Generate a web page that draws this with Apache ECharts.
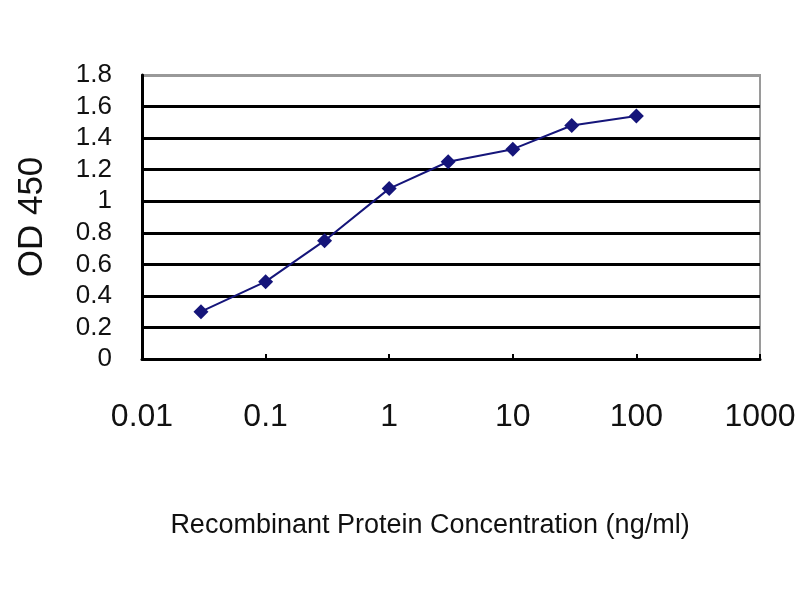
<!DOCTYPE html>
<html>
<head>
<meta charset="utf-8">
<script src="https://cdn.jsdelivr.net/npm/echarts@6/dist/echarts.min.js"></script>
<style>html,body{margin:0;padding:0;background:#fff}#c{width:800px;height:600px}</style>
</head>
<body>
<div id="c"></div>
<script>
const concentrations = [0.03, 0.1, 0.3, 1, 3, 10, 30, 100];
const od450 = [0.30, 0.49, 0.75, 1.08, 1.25, 1.33, 1.48, 1.54];
const xTitle = 'Recombinant Protein Concentration (ng/ml)';
const yTitle = 'OD 450';
const FONT = '"Liberation Sans", Arial, sans-serif';

const chart = echarts.init(document.getElementById('c'));
const gridColors = ['#000','#000','#000','#000','#000','#000','#000','#000','#000','#999'];
chart.setOption({
  animation: false,
  backgroundColor: '#fff',
  grid: { left: 142, right: 40, top: 75, bottom: 241, show: true, borderColor: '#9a9a9a', borderWidth: 2, backgroundColor: '#fff' },
  xAxis: {
    type: 'log', logBase: 10, min: 0.01, max: 1000,
    axisLine: { lineStyle: { color: '#000', width: 3 } },
    axisTick: { show: true, inside: true, length: 5, lineStyle: { color: '#000', width: 2 } },
    minorTick: { show: false },
    splitLine: { show: false },
    axisLabel: {
      margin: 42, fontSize: 32, color: '#111', fontFamily: FONT,
      showMinLabel: true, showMaxLabel: true,
      formatter: v => String(+(+v).toPrecision(6))
    }
  },
  yAxis: {
    type: 'value', min: 0, max: 1.8, interval: 0.2,
    name: yTitle, nameLocation: 'middle', nameRotate: 90, nameGap: 92,
    nameTextStyle: { fontSize: 35, color: '#111', fontFamily: FONT },
    axisLine: { show: true, lineStyle: { color: '#000', width: 3 } },
    axisTick: { show: false },
    splitLine: { show: true, lineStyle: { color: gridColors, width: 3 } },
    axisLabel: {
      margin: 30, fontSize: 26, color: '#111', fontFamily: FONT,
      showMinLabel: true, showMaxLabel: true, hideOverlap: false,
      formatter: v => String(+(+v).toFixed(1))
    }
  },
  graphic: [{
    type: 'text', x: 430, y: 526,
    style: { text: xTitle, textAlign: 'center', textVerticalAlign: 'middle',
      font: '27px "Liberation Sans", Arial, sans-serif', fill: '#111' }
  }],
  series: [{
    type: 'line',
    data: concentrations.map((c, i) => [c, od450[i]]),
    symbol: 'diamond', symbolSize: 15,
    itemStyle: { color: '#15157a' },
    lineStyle: { color: '#15157a', width: 2 }
  }]
});
</script>
</body>
</html>
